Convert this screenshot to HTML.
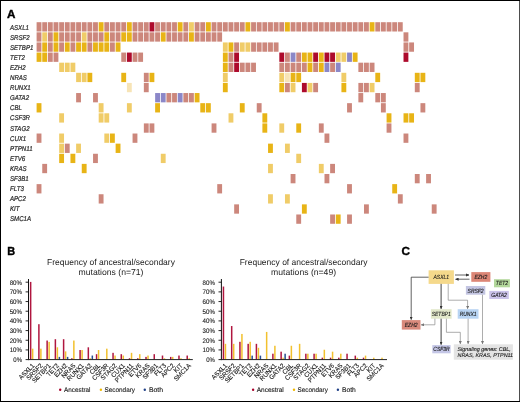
<!DOCTYPE html><html><head><meta charset="utf-8"><style>html,body{margin:0;padding:0;background:#fff;}svg{display:block;will-change:transform;}text{font-family:"Liberation Sans",sans-serif;text-rendering:geometricPrecision;} .s{stroke:#2a2a2a;stroke-width:0.22px;} .b{stroke:#000;stroke-width:0.4px;} .t{stroke:#1a1a1a;stroke-width:0.12px;} .c{stroke:#1a1a1a;stroke-width:0.12px;}</style></head><body>
<svg width="520" height="402" viewBox="0 0 520 402">
<rect x="0" y="0" width="520" height="402" fill="#000"/>
<rect x="1" y="1" width="518.3" height="400" fill="#fff"/>
<text x="7.0" y="17.8" font-size="11.7" font-weight="bold" fill="#000" class="b">A</text>
<text x="7.2" y="254.7" font-size="11.7" font-weight="bold" fill="#000" class="b" textLength="7.9" lengthAdjust="spacingAndGlyphs">B</text>
<text x="401.6" y="254.5" font-size="11.7" font-weight="bold" fill="#000" class="b">C</text>
<text x="10" y="29.75" font-size="7" font-style="italic" fill="#2a2a2a" class="s" transform="matrix(0.87 0 0 1 1.30 0)" >ASXL1</text>
<rect x="36.60" y="22.20" width="4.85" height="9.3" fill="#cc877c"/>
<rect x="42.25" y="22.20" width="4.85" height="9.3" fill="#cc877c"/>
<rect x="47.89" y="22.20" width="4.85" height="9.3" fill="#cc877c"/>
<rect x="53.53" y="22.20" width="4.85" height="9.3" fill="#cc877c"/>
<rect x="59.18" y="22.20" width="4.85" height="9.3" fill="#cc877c"/>
<rect x="64.83" y="22.20" width="4.85" height="9.3" fill="#cc877c"/>
<rect x="70.47" y="22.20" width="4.85" height="9.3" fill="#cc877c"/>
<rect x="76.12" y="22.20" width="4.85" height="9.3" fill="#cc877c"/>
<rect x="81.76" y="22.20" width="4.85" height="9.3" fill="#cc877c"/>
<rect x="87.41" y="22.20" width="4.85" height="9.3" fill="#cc877c"/>
<rect x="93.05" y="22.20" width="4.85" height="9.3" fill="#cc877c"/>
<rect x="98.69" y="22.20" width="4.85" height="9.3" fill="#e8b416"/>
<rect x="104.34" y="22.20" width="4.85" height="9.3" fill="#cc877c"/>
<rect x="109.98" y="22.20" width="4.85" height="9.3" fill="#cc877c"/>
<rect x="115.63" y="22.20" width="4.85" height="9.3" fill="#cc877c"/>
<rect x="121.28" y="22.20" width="4.85" height="9.3" fill="#cc877c"/>
<rect x="126.92" y="22.20" width="4.85" height="9.3" fill="#e8b416"/>
<rect x="132.56" y="22.20" width="4.85" height="9.3" fill="#cc877c"/>
<rect x="138.21" y="22.20" width="4.85" height="9.3" fill="#cc877c"/>
<rect x="143.85" y="22.20" width="4.85" height="9.3" fill="#cc877c"/>
<rect x="149.50" y="22.20" width="4.85" height="9.3" fill="#ad0a2c"/>
<rect x="155.14" y="22.20" width="4.85" height="9.3" fill="#cc877c"/>
<rect x="160.79" y="22.20" width="4.85" height="9.3" fill="#cc877c"/>
<rect x="166.43" y="22.20" width="4.85" height="9.3" fill="#cc877c"/>
<rect x="172.08" y="22.20" width="4.85" height="9.3" fill="#cc877c"/>
<rect x="177.72" y="22.20" width="4.85" height="9.3" fill="#e8b416"/>
<rect x="183.37" y="22.20" width="4.85" height="9.3" fill="#cc877c"/>
<rect x="189.01" y="22.20" width="4.85" height="9.3" fill="#f0cc68"/>
<rect x="194.66" y="22.20" width="4.85" height="9.3" fill="#cc877c"/>
<rect x="200.30" y="22.20" width="4.85" height="9.3" fill="#cc877c"/>
<rect x="205.95" y="22.20" width="4.85" height="9.3" fill="#e8b416"/>
<rect x="211.59" y="22.20" width="4.85" height="9.3" fill="#cc877c"/>
<rect x="217.24" y="22.20" width="4.85" height="9.3" fill="#cc877c"/>
<rect x="222.88" y="22.20" width="4.85" height="9.3" fill="#cc877c"/>
<rect x="228.53" y="22.20" width="4.85" height="9.3" fill="#cc877c"/>
<rect x="234.17" y="22.20" width="4.85" height="9.3" fill="#cc877c"/>
<rect x="239.82" y="22.20" width="4.85" height="9.3" fill="#cc877c"/>
<rect x="245.46" y="22.20" width="4.85" height="9.3" fill="#e8b416"/>
<rect x="251.11" y="22.20" width="4.85" height="9.3" fill="#cc877c"/>
<rect x="256.75" y="22.20" width="4.85" height="9.3" fill="#cc877c"/>
<rect x="262.40" y="22.20" width="4.85" height="9.3" fill="#cc877c"/>
<rect x="268.05" y="22.20" width="4.85" height="9.3" fill="#cc877c"/>
<rect x="273.69" y="22.20" width="4.85" height="9.3" fill="#cc877c"/>
<rect x="279.33" y="22.20" width="4.85" height="9.3" fill="#cc877c"/>
<rect x="284.98" y="22.20" width="4.85" height="9.3" fill="#e8b416"/>
<rect x="290.62" y="22.20" width="4.85" height="9.3" fill="#cc877c"/>
<rect x="296.27" y="22.20" width="4.85" height="9.3" fill="#cc877c"/>
<rect x="301.92" y="22.20" width="4.85" height="9.3" fill="#cc877c"/>
<rect x="307.56" y="22.20" width="4.85" height="9.3" fill="#cc877c"/>
<rect x="313.20" y="22.20" width="4.85" height="9.3" fill="#cc877c"/>
<rect x="318.85" y="22.20" width="4.85" height="9.3" fill="#cc877c"/>
<rect x="324.50" y="22.20" width="4.85" height="9.3" fill="#cc877c"/>
<rect x="330.14" y="22.20" width="4.85" height="9.3" fill="#cc877c"/>
<rect x="335.79" y="22.20" width="4.85" height="9.3" fill="#cc877c"/>
<rect x="341.43" y="22.20" width="4.85" height="9.3" fill="#cc877c"/>
<rect x="347.07" y="22.20" width="4.85" height="9.3" fill="#cc877c"/>
<rect x="352.72" y="22.20" width="4.85" height="9.3" fill="#cc877c"/>
<rect x="358.37" y="22.20" width="4.85" height="9.3" fill="#cc877c"/>
<rect x="364.01" y="22.20" width="4.85" height="9.3" fill="#cc877c"/>
<rect x="369.65" y="22.20" width="4.85" height="9.3" fill="#e8b416"/>
<rect x="375.30" y="22.20" width="4.85" height="9.3" fill="#cc877c"/>
<rect x="380.94" y="22.20" width="4.85" height="9.3" fill="#cc877c"/>
<rect x="386.59" y="22.20" width="4.85" height="9.3" fill="#cc877c"/>
<rect x="392.24" y="22.20" width="4.85" height="9.3" fill="#cc877c"/>
<rect x="397.88" y="22.20" width="4.85" height="9.3" fill="#cc877c"/>
<text x="10" y="39.83" font-size="7" font-style="italic" fill="#2a2a2a" class="s" transform="matrix(0.87 0 0 1 1.30 0)" >SRSF2</text>
<rect x="36.60" y="32.32" width="4.85" height="9.3" fill="#cc877c"/>
<rect x="42.25" y="32.32" width="4.85" height="9.3" fill="#f0cc68"/>
<rect x="47.89" y="32.32" width="4.85" height="9.3" fill="#cc877c"/>
<rect x="53.53" y="32.32" width="4.85" height="9.3" fill="#e8b416"/>
<rect x="59.18" y="32.32" width="4.85" height="9.3" fill="#cc877c"/>
<rect x="64.83" y="32.32" width="4.85" height="9.3" fill="#cc877c"/>
<rect x="70.47" y="32.32" width="4.85" height="9.3" fill="#cc877c"/>
<rect x="76.12" y="32.32" width="4.85" height="9.3" fill="#cc877c"/>
<rect x="81.76" y="32.32" width="4.85" height="9.3" fill="#f0cc68"/>
<rect x="87.41" y="32.32" width="4.85" height="9.3" fill="#cc877c"/>
<rect x="93.05" y="32.32" width="4.85" height="9.3" fill="#cc877c"/>
<rect x="98.69" y="32.32" width="4.85" height="9.3" fill="#cc877c"/>
<rect x="104.34" y="32.32" width="4.85" height="9.3" fill="#e8b416"/>
<rect x="109.98" y="32.32" width="4.85" height="9.3" fill="#cc877c"/>
<rect x="115.63" y="32.32" width="4.85" height="9.3" fill="#cc877c"/>
<rect x="121.28" y="32.32" width="4.85" height="9.3" fill="#e8b416"/>
<rect x="126.92" y="32.32" width="4.85" height="9.3" fill="#e8b416"/>
<rect x="132.56" y="32.32" width="4.85" height="9.3" fill="#cc877c"/>
<rect x="138.21" y="32.32" width="4.85" height="9.3" fill="#cc877c"/>
<rect x="143.85" y="32.32" width="4.85" height="9.3" fill="#cc877c"/>
<rect x="149.50" y="32.32" width="4.85" height="9.3" fill="#cc877c"/>
<rect x="155.14" y="32.32" width="4.85" height="9.3" fill="#cc877c"/>
<rect x="160.79" y="32.32" width="4.85" height="9.3" fill="#e8b416"/>
<rect x="166.43" y="32.32" width="4.85" height="9.3" fill="#cc877c"/>
<rect x="172.08" y="32.32" width="4.85" height="9.3" fill="#cc877c"/>
<rect x="177.72" y="32.32" width="4.85" height="9.3" fill="#cc877c"/>
<rect x="183.37" y="32.32" width="4.85" height="9.3" fill="#cc877c"/>
<rect x="189.01" y="32.32" width="4.85" height="9.3" fill="#e8b416"/>
<rect x="194.66" y="32.32" width="4.85" height="9.3" fill="#cc877c"/>
<rect x="200.30" y="32.32" width="4.85" height="9.3" fill="#cc877c"/>
<rect x="205.95" y="32.32" width="4.85" height="9.3" fill="#cc877c"/>
<rect x="211.59" y="32.32" width="4.85" height="9.3" fill="#cc877c"/>
<rect x="217.24" y="32.32" width="4.85" height="9.3" fill="#cc877c"/>
<rect x="403.52" y="32.32" width="4.85" height="9.3" fill="#cc877c"/>
<text x="10" y="49.91" font-size="7" font-style="italic" fill="#2a2a2a" class="s" transform="matrix(0.87 0 0 1 1.30 0)" >SETBP1</text>
<rect x="36.60" y="42.44" width="4.85" height="9.3" fill="#cc877c"/>
<rect x="42.25" y="42.44" width="4.85" height="9.3" fill="#e8b416"/>
<rect x="47.89" y="42.44" width="4.85" height="9.3" fill="#cc877c"/>
<rect x="53.53" y="42.44" width="4.85" height="9.3" fill="#e8b416"/>
<rect x="59.18" y="42.44" width="4.85" height="9.3" fill="#cc877c"/>
<rect x="64.83" y="42.44" width="4.85" height="9.3" fill="#e8b416"/>
<rect x="70.47" y="42.44" width="4.85" height="9.3" fill="#cc877c"/>
<rect x="76.12" y="42.44" width="4.85" height="9.3" fill="#e8b416"/>
<rect x="81.76" y="42.44" width="4.85" height="9.3" fill="#e8b416"/>
<rect x="87.41" y="42.44" width="4.85" height="9.3" fill="#cc877c"/>
<rect x="93.05" y="42.44" width="4.85" height="9.3" fill="#e8b416"/>
<rect x="98.69" y="42.44" width="4.85" height="9.3" fill="#e8b416"/>
<rect x="104.34" y="42.44" width="4.85" height="9.3" fill="#e8b416"/>
<rect x="109.98" y="42.44" width="4.85" height="9.3" fill="#cc877c"/>
<rect x="115.63" y="42.44" width="4.85" height="9.3" fill="#e8b416"/>
<rect x="222.88" y="42.44" width="4.85" height="9.3" fill="#f0cc68"/>
<rect x="228.53" y="42.44" width="4.85" height="9.3" fill="#e8b416"/>
<rect x="234.17" y="42.44" width="4.85" height="9.3" fill="#cc877c"/>
<rect x="239.82" y="42.44" width="4.85" height="9.3" fill="#f0cc68"/>
<rect x="245.46" y="42.44" width="4.85" height="9.3" fill="#f0cc68"/>
<rect x="251.11" y="42.44" width="4.85" height="9.3" fill="#cc877c"/>
<rect x="256.75" y="42.44" width="4.85" height="9.3" fill="#cc877c"/>
<rect x="262.40" y="42.44" width="4.85" height="9.3" fill="#cc877c"/>
<rect x="268.05" y="42.44" width="4.85" height="9.3" fill="#cc877c"/>
<rect x="273.69" y="42.44" width="4.85" height="9.3" fill="#cc877c"/>
<rect x="403.52" y="42.44" width="4.85" height="9.3" fill="#cc877c"/>
<rect x="409.17" y="42.44" width="4.85" height="9.3" fill="#cc877c"/>
<text x="10" y="59.99" font-size="7" font-style="italic" fill="#2a2a2a" class="s" transform="matrix(0.87 0 0 1 1.30 0)" >TET2</text>
<rect x="36.60" y="52.56" width="4.85" height="9.3" fill="#e8b416"/>
<rect x="42.25" y="52.56" width="4.85" height="9.3" fill="#e8b416"/>
<rect x="47.89" y="52.56" width="4.85" height="9.3" fill="#cc877c"/>
<rect x="53.53" y="52.56" width="4.85" height="9.3" fill="#cc877c"/>
<rect x="121.28" y="52.56" width="4.85" height="9.3" fill="#cc877c"/>
<rect x="126.92" y="52.56" width="4.85" height="9.3" fill="#ad0a2c"/>
<rect x="132.56" y="52.56" width="4.85" height="9.3" fill="#cc877c"/>
<rect x="138.21" y="52.56" width="4.85" height="9.3" fill="#cc877c"/>
<rect x="222.88" y="52.56" width="4.85" height="9.3" fill="#e8b416"/>
<rect x="228.53" y="52.56" width="4.85" height="9.3" fill="#cc877c"/>
<rect x="234.17" y="52.56" width="4.85" height="9.3" fill="#ad0a2c"/>
<rect x="279.33" y="52.56" width="4.85" height="9.3" fill="#ad0a2c"/>
<rect x="284.98" y="52.56" width="4.85" height="9.3" fill="#cc877c"/>
<rect x="290.62" y="52.56" width="4.85" height="9.3" fill="#8b87c8"/>
<rect x="296.27" y="52.56" width="4.85" height="9.3" fill="#cc877c"/>
<rect x="301.92" y="52.56" width="4.85" height="9.3" fill="#e8b416"/>
<rect x="307.56" y="52.56" width="4.85" height="9.3" fill="#e8b416"/>
<rect x="313.20" y="52.56" width="4.85" height="9.3" fill="#ad0a2c"/>
<rect x="318.85" y="52.56" width="4.85" height="9.3" fill="#e8b416"/>
<rect x="324.50" y="52.56" width="4.85" height="9.3" fill="#ad0a2c"/>
<rect x="330.14" y="52.56" width="4.85" height="9.3" fill="#ad0a2c"/>
<rect x="335.79" y="52.56" width="4.85" height="9.3" fill="#f0cc68"/>
<rect x="341.43" y="52.56" width="4.85" height="9.3" fill="#f0cc68"/>
<rect x="347.07" y="52.56" width="4.85" height="9.3" fill="#8b87c8"/>
<rect x="352.72" y="52.56" width="4.85" height="9.3" fill="#e8b416"/>
<rect x="403.52" y="52.56" width="4.85" height="9.3" fill="#ad0a2c"/>
<text x="10" y="70.07" font-size="7" font-style="italic" fill="#2a2a2a" class="s" transform="matrix(0.87 0 0 1 1.30 0)" >EZH2</text>
<rect x="59.18" y="62.68" width="4.85" height="9.3" fill="#f0cc68"/>
<rect x="64.83" y="62.68" width="4.85" height="9.3" fill="#f0cc68"/>
<rect x="70.47" y="62.68" width="4.85" height="9.3" fill="#f0cc68"/>
<rect x="222.88" y="62.68" width="4.85" height="9.3" fill="#e8b416"/>
<rect x="228.53" y="62.68" width="4.85" height="9.3" fill="#cc877c"/>
<rect x="234.17" y="62.68" width="4.85" height="9.3" fill="#ad0a2c"/>
<rect x="239.82" y="62.68" width="4.85" height="9.3" fill="#cc877c"/>
<rect x="245.46" y="62.68" width="4.85" height="9.3" fill="#cc877c"/>
<rect x="251.11" y="62.68" width="4.85" height="9.3" fill="#cc877c"/>
<rect x="279.33" y="62.68" width="4.85" height="9.3" fill="#cc877c"/>
<rect x="284.98" y="62.68" width="4.85" height="9.3" fill="#cc877c"/>
<rect x="290.62" y="62.68" width="4.85" height="9.3" fill="#cc877c"/>
<rect x="296.27" y="62.68" width="4.85" height="9.3" fill="#cc877c"/>
<rect x="301.92" y="62.68" width="4.85" height="9.3" fill="#cc877c"/>
<rect x="307.56" y="62.68" width="4.85" height="9.3" fill="#e8b416"/>
<rect x="313.20" y="62.68" width="4.85" height="9.3" fill="#cc877c"/>
<rect x="318.85" y="62.68" width="4.85" height="9.3" fill="#e8b416"/>
<rect x="324.50" y="62.68" width="4.85" height="9.3" fill="#8b87c8"/>
<rect x="330.14" y="62.68" width="4.85" height="9.3" fill="#cc877c"/>
<rect x="335.79" y="62.68" width="4.85" height="9.3" fill="#8b87c8"/>
<rect x="358.37" y="62.68" width="4.85" height="9.3" fill="#cc877c"/>
<rect x="364.01" y="62.68" width="4.85" height="9.3" fill="#cc877c"/>
<rect x="369.65" y="62.68" width="4.85" height="9.3" fill="#cc877c"/>
<text x="10" y="80.15" font-size="7" font-style="italic" fill="#2a2a2a" class="s" transform="matrix(0.87 0 0 1 1.30 0)" >NRAS</text>
<rect x="76.12" y="72.80" width="4.85" height="9.3" fill="#f0cc68"/>
<rect x="81.76" y="72.80" width="4.85" height="9.3" fill="#f0cc68"/>
<rect x="87.41" y="72.80" width="4.85" height="9.3" fill="#e8b416"/>
<rect x="121.28" y="72.80" width="4.85" height="9.3" fill="#e8b416"/>
<rect x="143.85" y="72.80" width="4.85" height="9.3" fill="#cc877c"/>
<rect x="149.50" y="72.80" width="4.85" height="9.3" fill="#e8b416"/>
<rect x="222.88" y="72.80" width="4.85" height="9.3" fill="#f0cc68"/>
<rect x="279.33" y="72.80" width="4.85" height="9.3" fill="#f0cc68"/>
<rect x="284.98" y="72.80" width="4.85" height="9.3" fill="#f7e4b6"/>
<rect x="290.62" y="72.80" width="4.85" height="9.3" fill="#e8b416"/>
<rect x="296.27" y="72.80" width="4.85" height="9.3" fill="#e8b416"/>
<rect x="341.43" y="72.80" width="4.85" height="9.3" fill="#f0cc68"/>
<rect x="375.30" y="72.80" width="4.85" height="9.3" fill="#e8b416"/>
<rect x="414.81" y="72.80" width="4.85" height="9.3" fill="#e8b416"/>
<rect x="420.46" y="72.80" width="4.85" height="9.3" fill="#e8b416"/>
<text x="10" y="90.23" font-size="7" font-style="italic" fill="#2a2a2a" class="s" transform="matrix(0.87 0 0 1 1.30 0)" >RUNX1</text>
<rect x="126.92" y="82.92" width="4.85" height="9.3" fill="#f7e4b6"/>
<rect x="143.85" y="82.92" width="4.85" height="9.3" fill="#cc877c"/>
<rect x="222.88" y="82.92" width="4.85" height="9.3" fill="#e8b416"/>
<rect x="279.33" y="82.92" width="4.85" height="9.3" fill="#e8b416"/>
<rect x="284.98" y="82.92" width="4.85" height="9.3" fill="#cc877c"/>
<rect x="290.62" y="82.92" width="4.85" height="9.3" fill="#f0cc68"/>
<rect x="301.92" y="82.92" width="4.85" height="9.3" fill="#ad0a2c"/>
<rect x="307.56" y="82.92" width="4.85" height="9.3" fill="#f0cc68"/>
<rect x="313.20" y="82.92" width="4.85" height="9.3" fill="#cc877c"/>
<rect x="341.43" y="82.92" width="4.85" height="9.3" fill="#e8b416"/>
<rect x="358.37" y="82.92" width="4.85" height="9.3" fill="#cc877c"/>
<rect x="364.01" y="82.92" width="4.85" height="9.3" fill="#cc877c"/>
<rect x="369.65" y="82.92" width="4.85" height="9.3" fill="#f0cc68"/>
<rect x="414.81" y="82.92" width="4.85" height="9.3" fill="#cc877c"/>
<text x="10" y="100.31" font-size="7" font-style="italic" fill="#2a2a2a" class="s" transform="matrix(0.87 0 0 1 1.30 0)" >GATA2</text>
<rect x="76.12" y="93.04" width="4.85" height="9.3" fill="#cc877c"/>
<rect x="93.05" y="93.04" width="4.85" height="9.3" fill="#cc877c"/>
<rect x="155.14" y="93.04" width="4.85" height="9.3" fill="#8b87c8"/>
<rect x="160.79" y="93.04" width="4.85" height="9.3" fill="#8b87c8"/>
<rect x="166.43" y="93.04" width="4.85" height="9.3" fill="#cc877c"/>
<rect x="172.08" y="93.04" width="4.85" height="9.3" fill="#cc877c"/>
<rect x="177.72" y="93.04" width="4.85" height="9.3" fill="#8b87c8"/>
<rect x="183.37" y="93.04" width="4.85" height="9.3" fill="#cc877c"/>
<rect x="189.01" y="93.04" width="4.85" height="9.3" fill="#cc877c"/>
<rect x="194.66" y="93.04" width="4.85" height="9.3" fill="#e8b416"/>
<rect x="358.37" y="93.04" width="4.85" height="9.3" fill="#cc877c"/>
<rect x="375.30" y="93.04" width="4.85" height="9.3" fill="#cc877c"/>
<rect x="380.94" y="93.04" width="4.85" height="9.3" fill="#cc877c"/>
<text x="10" y="110.39" font-size="7" font-style="italic" fill="#2a2a2a" class="s" transform="matrix(0.87 0 0 1 1.30 0)" >CBL</text>
<rect x="36.60" y="103.16" width="4.85" height="9.3" fill="#e8b416"/>
<rect x="98.69" y="103.16" width="4.85" height="9.3" fill="#f0cc68"/>
<rect x="126.92" y="103.16" width="4.85" height="9.3" fill="#f0cc68"/>
<rect x="155.14" y="103.16" width="4.85" height="9.3" fill="#e8b416"/>
<rect x="200.30" y="103.16" width="4.85" height="9.3" fill="#e8b416"/>
<rect x="205.95" y="103.16" width="4.85" height="9.3" fill="#e8b416"/>
<rect x="239.82" y="103.16" width="4.85" height="9.3" fill="#e8b416"/>
<rect x="256.75" y="103.16" width="4.85" height="9.3" fill="#cc877c"/>
<rect x="347.07" y="103.16" width="4.85" height="9.3" fill="#cc877c"/>
<rect x="380.94" y="103.16" width="4.85" height="9.3" fill="#cc877c"/>
<rect x="420.46" y="103.16" width="4.85" height="9.3" fill="#cc877c"/>
<text x="10" y="120.47" font-size="7" font-style="italic" fill="#2a2a2a" class="s" transform="matrix(0.87 0 0 1 1.30 0)" >CSF3R</text>
<rect x="59.18" y="113.28" width="4.85" height="9.3" fill="#f0cc68"/>
<rect x="98.69" y="113.28" width="4.85" height="9.3" fill="#f0cc68"/>
<rect x="104.34" y="113.28" width="4.85" height="9.3" fill="#f0cc68"/>
<rect x="228.53" y="113.28" width="4.85" height="9.3" fill="#f0cc68"/>
<rect x="262.40" y="113.28" width="4.85" height="9.3" fill="#e8b416"/>
<rect x="386.59" y="113.28" width="4.85" height="9.3" fill="#e8b416"/>
<rect x="403.52" y="113.28" width="4.85" height="9.3" fill="#e8b416"/>
<rect x="409.17" y="113.28" width="4.85" height="9.3" fill="#e8b416"/>
<text x="10" y="130.55" font-size="7" font-style="italic" fill="#2a2a2a" class="s" transform="matrix(0.87 0 0 1 1.30 0)" >STAG2</text>
<rect x="143.85" y="123.40" width="4.85" height="9.3" fill="#cc877c"/>
<rect x="149.50" y="123.40" width="4.85" height="9.3" fill="#cc877c"/>
<rect x="211.59" y="123.40" width="4.85" height="9.3" fill="#cc877c"/>
<rect x="262.40" y="123.40" width="4.85" height="9.3" fill="#e8b416"/>
<rect x="279.33" y="123.40" width="4.85" height="9.3" fill="#f0cc68"/>
<rect x="296.27" y="123.40" width="4.85" height="9.3" fill="#e8b416"/>
<rect x="318.85" y="123.40" width="4.85" height="9.3" fill="#cc877c"/>
<rect x="386.59" y="123.40" width="4.85" height="9.3" fill="#cc877c"/>
<text x="10" y="140.63" font-size="7" font-style="italic" fill="#2a2a2a" class="s" transform="matrix(0.87 0 0 1 1.30 0)" >CUX1</text>
<rect x="36.60" y="133.52" width="4.85" height="9.3" fill="#cc877c"/>
<rect x="59.18" y="133.52" width="4.85" height="9.3" fill="#f0cc68"/>
<rect x="104.34" y="133.52" width="4.85" height="9.3" fill="#f0cc68"/>
<rect x="109.98" y="133.52" width="4.85" height="9.3" fill="#e8b416"/>
<rect x="132.56" y="133.52" width="4.85" height="9.3" fill="#cc877c"/>
<rect x="324.50" y="133.52" width="4.85" height="9.3" fill="#cc877c"/>
<rect x="403.52" y="133.52" width="4.85" height="9.3" fill="#cc877c"/>
<text x="10" y="150.71" font-size="7" font-style="italic" fill="#2a2a2a" class="s" transform="matrix(0.87 0 0 1 1.30 0)" >PTPN11</text>
<rect x="59.18" y="143.64" width="4.85" height="9.3" fill="#f0cc68"/>
<rect x="64.83" y="143.64" width="4.85" height="9.3" fill="#cc877c"/>
<rect x="76.12" y="143.64" width="4.85" height="9.3" fill="#f0cc68"/>
<rect x="115.63" y="143.64" width="4.85" height="9.3" fill="#e8b416"/>
<rect x="268.05" y="143.64" width="4.85" height="9.3" fill="#e8b416"/>
<rect x="284.98" y="143.64" width="4.85" height="9.3" fill="#f0cc68"/>
<text x="10" y="160.79" font-size="7" font-style="italic" fill="#2a2a2a" class="s" transform="matrix(0.87 0 0 1 1.30 0)" >ETV6</text>
<rect x="59.18" y="153.76" width="4.85" height="9.3" fill="#e8b416"/>
<rect x="70.47" y="153.76" width="4.85" height="9.3" fill="#e8b416"/>
<rect x="93.05" y="153.76" width="4.85" height="9.3" fill="#cc877c"/>
<rect x="160.79" y="153.76" width="4.85" height="9.3" fill="#f0cc68"/>
<rect x="296.27" y="153.76" width="4.85" height="9.3" fill="#f0cc68"/>
<text x="10" y="170.87" font-size="7" font-style="italic" fill="#2a2a2a" class="s" transform="matrix(0.87 0 0 1 1.30 0)" >KRAS</text>
<rect x="42.25" y="163.88" width="4.85" height="9.3" fill="#cc877c"/>
<rect x="81.76" y="163.88" width="4.85" height="9.3" fill="#e8b416"/>
<rect x="268.05" y="163.88" width="4.85" height="9.3" fill="#f0cc68"/>
<rect x="318.85" y="163.88" width="4.85" height="9.3" fill="#f0cc68"/>
<rect x="330.14" y="163.88" width="4.85" height="9.3" fill="#cc877c"/>
<text x="10" y="180.95" font-size="7" font-style="italic" fill="#2a2a2a" class="s" transform="matrix(0.87 0 0 1 1.30 0)" >SF3B1</text>
<rect x="290.62" y="174.00" width="4.85" height="9.3" fill="#cc877c"/>
<rect x="324.50" y="174.00" width="4.85" height="9.3" fill="#cc877c"/>
<rect x="414.81" y="174.00" width="4.85" height="9.3" fill="#cc877c"/>
<rect x="426.11" y="174.00" width="4.85" height="9.3" fill="#cc877c"/>
<text x="10" y="191.03" font-size="7" font-style="italic" fill="#2a2a2a" class="s" transform="matrix(0.87 0 0 1 1.30 0)" >FLT3</text>
<rect x="36.60" y="184.12" width="4.85" height="9.3" fill="#cc877c"/>
<rect x="217.24" y="184.12" width="4.85" height="9.3" fill="#cc877c"/>
<rect x="347.07" y="184.12" width="4.85" height="9.3" fill="#cc877c"/>
<rect x="392.24" y="184.12" width="4.85" height="9.3" fill="#e8b416"/>
<text x="10" y="201.11" font-size="7" font-style="italic" fill="#2a2a2a" class="s" transform="matrix(0.87 0 0 1 1.30 0)" >APC2</text>
<rect x="98.69" y="194.24" width="4.85" height="9.3" fill="#cc877c"/>
<rect x="268.05" y="194.24" width="4.85" height="9.3" fill="#f0cc68"/>
<rect x="284.98" y="194.24" width="4.85" height="9.3" fill="#f0cc68"/>
<rect x="397.88" y="194.24" width="4.85" height="9.3" fill="#cc877c"/>
<text x="10" y="211.19" font-size="7" font-style="italic" fill="#2a2a2a" class="s" transform="matrix(0.87 0 0 1 1.30 0)" >KIT</text>
<rect x="234.17" y="204.36" width="4.85" height="9.3" fill="#cc877c"/>
<rect x="301.92" y="204.36" width="4.85" height="9.3" fill="#e8b416"/>
<rect x="364.01" y="204.36" width="4.85" height="9.3" fill="#cc877c"/>
<rect x="431.75" y="204.36" width="4.85" height="9.3" fill="#cc877c"/>
<text x="10" y="221.27" font-size="7" font-style="italic" fill="#2a2a2a" class="s" transform="matrix(0.87 0 0 1 1.30 0)" >SMC1A</text>
<rect x="296.27" y="214.48" width="4.85" height="9.3" fill="#cc877c"/>
<rect x="330.14" y="214.48" width="4.85" height="9.3" fill="#cc877c"/>
<rect x="335.79" y="214.48" width="4.85" height="9.3" fill="#e8b416"/>
<rect x="347.07" y="214.48" width="4.85" height="9.3" fill="#cc877c"/>
<text x="111" y="264.8" font-size="8.6" text-anchor="middle" fill="#222" textLength="127.8" lengthAdjust="spacingAndGlyphs">Frequency of ancestral/secondary</text>
<text x="111" y="274.8" font-size="8.6" text-anchor="middle" fill="#222" textLength="65" lengthAdjust="spacingAndGlyphs">mutations (n=71)</text>
<text x="22.00" y="362.00" font-size="6.6" text-anchor="end" fill="#1a1a1a" class="t" textLength="8.7" lengthAdjust="spacingAndGlyphs">0%</text>
<line x1="25.60" y1="359.60" x2="28.5" y2="359.60" stroke="#111" stroke-width="0.9"/>
<text x="22.00" y="352.32" font-size="6.6" text-anchor="end" fill="#1a1a1a" class="t" textLength="12.3" lengthAdjust="spacingAndGlyphs">10%</text>
<line x1="25.60" y1="349.93" x2="28.5" y2="349.93" stroke="#111" stroke-width="0.9"/>
<text x="22.00" y="342.65" font-size="6.6" text-anchor="end" fill="#1a1a1a" class="t" textLength="12.3" lengthAdjust="spacingAndGlyphs">20%</text>
<line x1="25.60" y1="340.25" x2="28.5" y2="340.25" stroke="#111" stroke-width="0.9"/>
<text x="22.00" y="332.98" font-size="6.6" text-anchor="end" fill="#1a1a1a" class="t" textLength="12.3" lengthAdjust="spacingAndGlyphs">30%</text>
<line x1="25.60" y1="330.58" x2="28.5" y2="330.58" stroke="#111" stroke-width="0.9"/>
<text x="22.00" y="323.30" font-size="6.6" text-anchor="end" fill="#1a1a1a" class="t" textLength="12.3" lengthAdjust="spacingAndGlyphs">40%</text>
<line x1="25.60" y1="320.90" x2="28.5" y2="320.90" stroke="#111" stroke-width="0.9"/>
<text x="22.00" y="313.62" font-size="6.6" text-anchor="end" fill="#1a1a1a" class="t" textLength="12.3" lengthAdjust="spacingAndGlyphs">50%</text>
<line x1="25.60" y1="311.23" x2="28.5" y2="311.23" stroke="#111" stroke-width="0.9"/>
<text x="22.00" y="303.95" font-size="6.6" text-anchor="end" fill="#1a1a1a" class="t" textLength="12.3" lengthAdjust="spacingAndGlyphs">60%</text>
<line x1="25.60" y1="301.55" x2="28.5" y2="301.55" stroke="#111" stroke-width="0.9"/>
<text x="22.00" y="294.27" font-size="6.6" text-anchor="end" fill="#1a1a1a" class="t" textLength="12.3" lengthAdjust="spacingAndGlyphs">70%</text>
<line x1="25.60" y1="291.88" x2="28.5" y2="291.88" stroke="#111" stroke-width="0.9"/>
<text x="22.00" y="284.60" font-size="6.6" text-anchor="end" fill="#1a1a1a" class="t" textLength="12.3" lengthAdjust="spacingAndGlyphs">80%</text>
<line x1="25.60" y1="282.20" x2="28.5" y2="282.20" stroke="#111" stroke-width="0.9"/>
<rect x="29.90" y="281.91" width="1.5" height="77.69" fill="#b0163f"/>
<rect x="31.90" y="348.67" width="1.5" height="10.93" fill="#f2c12e"/>
<text x="0" y="0" font-size="6.5" text-anchor="end" fill="#1a1a1a" class="t" transform="translate(34.80 366.0) rotate(-46) scale(0.96 1)">ASXL1</text>
<rect x="38.14" y="324.19" width="1.5" height="35.41" fill="#b0163f"/>
<rect x="40.14" y="348.67" width="1.5" height="10.93" fill="#f2c12e"/>
<text x="0" y="0" font-size="6.5" text-anchor="end" fill="#1a1a1a" class="t" transform="translate(43.04 366.0) rotate(-46) scale(0.96 1)">SRSF2</text>
<rect x="46.38" y="340.54" width="1.5" height="19.06" fill="#b0163f"/>
<rect x="48.38" y="341.89" width="1.5" height="17.71" fill="#f2c12e"/>
<text x="0" y="0" font-size="6.5" text-anchor="end" fill="#1a1a1a" class="t" transform="translate(51.28 366.0) rotate(-46) scale(0.96 1)">SETBP1</text>
<rect x="54.62" y="339.19" width="1.5" height="20.41" fill="#b0163f"/>
<rect x="56.62" y="347.31" width="1.5" height="12.29" fill="#f2c12e"/>
<rect x="58.62" y="356.89" width="1.5" height="2.71" fill="#2b4e8e"/>
<text x="0" y="0" font-size="6.5" text-anchor="end" fill="#1a1a1a" class="t" transform="translate(59.52 366.0) rotate(-46) scale(0.96 1)">TET2</text>
<rect x="62.86" y="339.19" width="1.5" height="20.41" fill="#b0163f"/>
<rect x="64.86" y="351.38" width="1.5" height="8.22" fill="#f2c12e"/>
<rect x="66.86" y="356.89" width="1.5" height="2.71" fill="#2b4e8e"/>
<text x="0" y="0" font-size="6.5" text-anchor="end" fill="#1a1a1a" class="t" transform="translate(67.76 366.0) rotate(-46) scale(0.96 1)">EZH2</text>
<rect x="71.10" y="358.25" width="1.5" height="1.35" fill="#b0163f"/>
<rect x="73.10" y="340.54" width="1.5" height="19.06" fill="#f2c12e"/>
<text x="0" y="0" font-size="6.5" text-anchor="end" fill="#1a1a1a" class="t" transform="translate(76.00 366.0) rotate(-46) scale(0.96 1)">NRAS</text>
<rect x="79.34" y="350.02" width="1.5" height="9.58" fill="#b0163f"/>
<rect x="81.34" y="350.02" width="1.5" height="9.58" fill="#f2c12e"/>
<text x="0" y="0" font-size="6.5" text-anchor="end" fill="#1a1a1a" class="t" transform="translate(84.24 366.0) rotate(-46) scale(0.96 1)">RUNX1</text>
<rect x="87.58" y="347.31" width="1.5" height="12.29" fill="#b0163f"/>
<rect x="89.58" y="358.25" width="1.5" height="1.35" fill="#f2c12e"/>
<rect x="91.58" y="355.54" width="1.5" height="4.06" fill="#2b4e8e"/>
<text x="0" y="0" font-size="6.5" text-anchor="end" fill="#1a1a1a" class="t" transform="translate(92.48 366.0) rotate(-46) scale(0.96 1)">GATA2</text>
<rect x="95.82" y="354.18" width="1.5" height="5.42" fill="#b0163f"/>
<rect x="97.82" y="350.02" width="1.5" height="9.58" fill="#f2c12e"/>
<text x="0" y="0" font-size="6.5" text-anchor="end" fill="#1a1a1a" class="t" transform="translate(100.72 366.0) rotate(-46) scale(0.96 1)">CBL</text>
<rect x="106.06" y="348.67" width="1.5" height="10.93" fill="#f2c12e"/>
<text x="0" y="0" font-size="6.5" text-anchor="end" fill="#1a1a1a" class="t" transform="translate(108.96 366.0) rotate(-46) scale(0.96 1)">CSF3R</text>
<rect x="112.30" y="352.83" width="1.5" height="6.77" fill="#b0163f"/>
<rect x="114.30" y="355.54" width="1.5" height="4.06" fill="#f2c12e"/>
<text x="0" y="0" font-size="6.5" text-anchor="end" fill="#1a1a1a" class="t" transform="translate(117.20 366.0) rotate(-46) scale(0.96 1)">STAG2</text>
<rect x="120.54" y="354.18" width="1.5" height="5.42" fill="#b0163f"/>
<rect x="122.54" y="355.54" width="1.5" height="4.06" fill="#f2c12e"/>
<text x="0" y="0" font-size="6.5" text-anchor="end" fill="#1a1a1a" class="t" transform="translate(125.44 366.0) rotate(-46) scale(0.96 1)">CUX1</text>
<rect x="128.78" y="358.25" width="1.5" height="1.35" fill="#b0163f"/>
<rect x="130.78" y="352.83" width="1.5" height="6.77" fill="#f2c12e"/>
<text x="0" y="0" font-size="6.5" text-anchor="end" fill="#1a1a1a" class="t" transform="translate(133.68 366.0) rotate(-46) scale(0.96 1)">PTPN11</text>
<rect x="137.02" y="358.25" width="1.5" height="1.35" fill="#b0163f"/>
<rect x="139.02" y="354.18" width="1.5" height="5.42" fill="#f2c12e"/>
<text x="0" y="0" font-size="6.5" text-anchor="end" fill="#1a1a1a" class="t" transform="translate(141.92 366.0) rotate(-46) scale(0.96 1)">ETV6</text>
<rect x="145.26" y="356.89" width="1.5" height="2.71" fill="#b0163f"/>
<rect x="147.26" y="355.54" width="1.5" height="4.06" fill="#f2c12e"/>
<text x="0" y="0" font-size="6.5" text-anchor="end" fill="#1a1a1a" class="t" transform="translate(150.16 366.0) rotate(-46) scale(0.96 1)">KRAS</text>
<rect x="153.50" y="354.18" width="1.5" height="5.42" fill="#b0163f"/>
<text x="0" y="0" font-size="6.5" text-anchor="end" fill="#1a1a1a" class="t" transform="translate(158.40 366.0) rotate(-46) scale(0.96 1)">SF3B1</text>
<rect x="161.74" y="355.54" width="1.5" height="4.06" fill="#b0163f"/>
<rect x="163.74" y="358.25" width="1.5" height="1.35" fill="#f2c12e"/>
<text x="0" y="0" font-size="6.5" text-anchor="end" fill="#1a1a1a" class="t" transform="translate(166.64 366.0) rotate(-46) scale(0.96 1)">FLT3</text>
<rect x="169.98" y="356.89" width="1.5" height="2.71" fill="#b0163f"/>
<rect x="171.98" y="356.89" width="1.5" height="2.71" fill="#f2c12e"/>
<text x="0" y="0" font-size="6.5" text-anchor="end" fill="#1a1a1a" class="t" transform="translate(174.88 366.0) rotate(-46) scale(0.96 1)">APC2</text>
<rect x="178.22" y="355.54" width="1.5" height="4.06" fill="#b0163f"/>
<rect x="180.22" y="358.25" width="1.5" height="1.35" fill="#f2c12e"/>
<text x="0" y="0" font-size="6.5" text-anchor="end" fill="#1a1a1a" class="t" transform="translate(183.12 366.0) rotate(-46) scale(0.96 1)">KIT</text>
<rect x="186.46" y="355.54" width="1.5" height="4.06" fill="#b0163f"/>
<rect x="188.46" y="358.25" width="1.5" height="1.35" fill="#f2c12e"/>
<text x="0" y="0" font-size="6.5" text-anchor="end" fill="#1a1a1a" class="t" transform="translate(191.36 366.0) rotate(-46) scale(0.96 1)">SMC1A</text>
<line x1="28.50" y1="279" x2="28.50" y2="360.1" stroke="#111" stroke-width="1"/>
<line x1="28.00" y1="359.60" x2="192.8" y2="359.60" stroke="#222" stroke-width="1"/>
<text x="303.6" y="264.8" font-size="8.6" text-anchor="middle" fill="#222" textLength="127.8" lengthAdjust="spacingAndGlyphs">Frequency of ancestral/secondary</text>
<text x="303.6" y="274.8" font-size="8.6" text-anchor="middle" fill="#222" textLength="65" lengthAdjust="spacingAndGlyphs">mutations (n=49)</text>
<text x="214.90" y="362.00" font-size="6.6" text-anchor="end" fill="#1a1a1a" class="t" textLength="8.7" lengthAdjust="spacingAndGlyphs">0%</text>
<line x1="218.50" y1="359.60" x2="221.4" y2="359.60" stroke="#111" stroke-width="0.9"/>
<text x="214.90" y="352.32" font-size="6.6" text-anchor="end" fill="#1a1a1a" class="t" textLength="12.3" lengthAdjust="spacingAndGlyphs">10%</text>
<line x1="218.50" y1="349.93" x2="221.4" y2="349.93" stroke="#111" stroke-width="0.9"/>
<text x="214.90" y="342.65" font-size="6.6" text-anchor="end" fill="#1a1a1a" class="t" textLength="12.3" lengthAdjust="spacingAndGlyphs">20%</text>
<line x1="218.50" y1="340.25" x2="221.4" y2="340.25" stroke="#111" stroke-width="0.9"/>
<text x="214.90" y="332.98" font-size="6.6" text-anchor="end" fill="#1a1a1a" class="t" textLength="12.3" lengthAdjust="spacingAndGlyphs">30%</text>
<line x1="218.50" y1="330.58" x2="221.4" y2="330.58" stroke="#111" stroke-width="0.9"/>
<text x="214.90" y="323.30" font-size="6.6" text-anchor="end" fill="#1a1a1a" class="t" textLength="12.3" lengthAdjust="spacingAndGlyphs">40%</text>
<line x1="218.50" y1="320.90" x2="221.4" y2="320.90" stroke="#111" stroke-width="0.9"/>
<text x="214.90" y="313.62" font-size="6.6" text-anchor="end" fill="#1a1a1a" class="t" textLength="12.3" lengthAdjust="spacingAndGlyphs">50%</text>
<line x1="218.50" y1="311.23" x2="221.4" y2="311.23" stroke="#111" stroke-width="0.9"/>
<text x="214.90" y="303.95" font-size="6.6" text-anchor="end" fill="#1a1a1a" class="t" textLength="12.3" lengthAdjust="spacingAndGlyphs">60%</text>
<line x1="218.50" y1="301.55" x2="221.4" y2="301.55" stroke="#111" stroke-width="0.9"/>
<text x="214.90" y="294.27" font-size="6.6" text-anchor="end" fill="#1a1a1a" class="t" textLength="12.3" lengthAdjust="spacingAndGlyphs">70%</text>
<line x1="218.50" y1="291.88" x2="221.4" y2="291.88" stroke="#111" stroke-width="0.9"/>
<text x="214.90" y="284.60" font-size="6.6" text-anchor="end" fill="#1a1a1a" class="t" textLength="12.3" lengthAdjust="spacingAndGlyphs">80%</text>
<line x1="218.50" y1="282.20" x2="221.4" y2="282.20" stroke="#111" stroke-width="0.9"/>
<rect x="222.70" y="286.55" width="1.5" height="73.05" fill="#b0163f"/>
<rect x="224.70" y="343.83" width="1.5" height="15.77" fill="#f2c12e"/>
<text x="0" y="0" font-size="6.5" text-anchor="end" fill="#1a1a1a" class="t" transform="translate(227.60 366.0) rotate(-46) scale(0.96 1)">ASXL1</text>
<rect x="230.94" y="326.03" width="1.5" height="33.57" fill="#b0163f"/>
<rect x="232.94" y="343.83" width="1.5" height="15.77" fill="#f2c12e"/>
<text x="0" y="0" font-size="6.5" text-anchor="end" fill="#1a1a1a" class="t" transform="translate(235.84 366.0) rotate(-46) scale(0.96 1)">SRSF2</text>
<rect x="239.18" y="341.80" width="1.5" height="17.80" fill="#b0163f"/>
<rect x="241.18" y="333.96" width="1.5" height="25.64" fill="#f2c12e"/>
<text x="0" y="0" font-size="6.5" text-anchor="end" fill="#1a1a1a" class="t" transform="translate(244.08 366.0) rotate(-46) scale(0.96 1)">SETBP1</text>
<rect x="247.42" y="343.83" width="1.5" height="15.77" fill="#b0163f"/>
<rect x="249.42" y="341.80" width="1.5" height="17.80" fill="#f2c12e"/>
<rect x="251.42" y="355.63" width="1.5" height="3.97" fill="#2b4e8e"/>
<text x="0" y="0" font-size="6.5" text-anchor="end" fill="#1a1a1a" class="t" transform="translate(252.32 366.0) rotate(-46) scale(0.96 1)">TET2</text>
<rect x="255.66" y="343.83" width="1.5" height="15.77" fill="#b0163f"/>
<rect x="257.66" y="347.80" width="1.5" height="11.80" fill="#f2c12e"/>
<rect x="259.66" y="355.63" width="1.5" height="3.97" fill="#2b4e8e"/>
<text x="0" y="0" font-size="6.5" text-anchor="end" fill="#1a1a1a" class="t" transform="translate(260.56 366.0) rotate(-46) scale(0.96 1)">EZH2</text>
<rect x="265.90" y="331.93" width="1.5" height="27.67" fill="#f2c12e"/>
<text x="0" y="0" font-size="6.5" text-anchor="end" fill="#1a1a1a" class="t" transform="translate(268.80 366.0) rotate(-46) scale(0.96 1)">NRAS</text>
<rect x="272.14" y="353.70" width="1.5" height="5.90" fill="#b0163f"/>
<rect x="274.14" y="345.76" width="1.5" height="13.84" fill="#f2c12e"/>
<text x="0" y="0" font-size="6.5" text-anchor="end" fill="#1a1a1a" class="t" transform="translate(277.04 366.0) rotate(-46) scale(0.96 1)">RUNX1</text>
<rect x="280.38" y="351.67" width="1.5" height="7.93" fill="#b0163f"/>
<rect x="282.38" y="357.67" width="1.5" height="1.94" fill="#f2c12e"/>
<rect x="284.38" y="353.70" width="1.5" height="5.90" fill="#2b4e8e"/>
<text x="0" y="0" font-size="6.5" text-anchor="end" fill="#1a1a1a" class="t" transform="translate(285.28 366.0) rotate(-46) scale(0.96 1)">GATA2</text>
<rect x="288.62" y="355.63" width="1.5" height="3.97" fill="#b0163f"/>
<rect x="290.62" y="345.76" width="1.5" height="13.84" fill="#f2c12e"/>
<text x="0" y="0" font-size="6.5" text-anchor="end" fill="#1a1a1a" class="t" transform="translate(293.52 366.0) rotate(-46) scale(0.96 1)">CBL</text>
<rect x="298.86" y="343.83" width="1.5" height="15.77" fill="#f2c12e"/>
<text x="0" y="0" font-size="6.5" text-anchor="end" fill="#1a1a1a" class="t" transform="translate(301.76 366.0) rotate(-46) scale(0.96 1)">CSF3R</text>
<rect x="305.10" y="353.70" width="1.5" height="5.90" fill="#b0163f"/>
<rect x="307.10" y="353.70" width="1.5" height="5.90" fill="#f2c12e"/>
<text x="0" y="0" font-size="6.5" text-anchor="end" fill="#1a1a1a" class="t" transform="translate(310.00 366.0) rotate(-46) scale(0.96 1)">STAG2</text>
<rect x="313.34" y="353.70" width="1.5" height="5.90" fill="#b0163f"/>
<rect x="315.34" y="353.70" width="1.5" height="5.90" fill="#f2c12e"/>
<text x="0" y="0" font-size="6.5" text-anchor="end" fill="#1a1a1a" class="t" transform="translate(318.24 366.0) rotate(-46) scale(0.96 1)">CUX1</text>
<rect x="321.58" y="357.67" width="1.5" height="1.94" fill="#b0163f"/>
<rect x="323.58" y="349.73" width="1.5" height="9.87" fill="#f2c12e"/>
<text x="0" y="0" font-size="6.5" text-anchor="end" fill="#1a1a1a" class="t" transform="translate(326.48 366.0) rotate(-46) scale(0.96 1)">PTPN11</text>
<rect x="329.82" y="357.67" width="1.5" height="1.94" fill="#b0163f"/>
<rect x="331.82" y="351.67" width="1.5" height="7.93" fill="#f2c12e"/>
<text x="0" y="0" font-size="6.5" text-anchor="end" fill="#1a1a1a" class="t" transform="translate(334.72 366.0) rotate(-46) scale(0.96 1)">ETV6</text>
<rect x="338.06" y="357.67" width="1.5" height="1.94" fill="#b0163f"/>
<rect x="340.06" y="353.70" width="1.5" height="5.90" fill="#f2c12e"/>
<text x="0" y="0" font-size="6.5" text-anchor="end" fill="#1a1a1a" class="t" transform="translate(342.96 366.0) rotate(-46) scale(0.96 1)">KRAS</text>
<rect x="346.30" y="353.70" width="1.5" height="5.90" fill="#b0163f"/>
<text x="0" y="0" font-size="6.5" text-anchor="end" fill="#1a1a1a" class="t" transform="translate(351.20 366.0) rotate(-46) scale(0.96 1)">SF3B1</text>
<rect x="354.54" y="355.63" width="1.5" height="3.97" fill="#b0163f"/>
<rect x="356.54" y="357.67" width="1.5" height="1.94" fill="#f2c12e"/>
<text x="0" y="0" font-size="6.5" text-anchor="end" fill="#1a1a1a" class="t" transform="translate(359.44 366.0) rotate(-46) scale(0.96 1)">FLT3</text>
<rect x="362.78" y="357.67" width="1.5" height="1.94" fill="#b0163f"/>
<rect x="364.78" y="355.63" width="1.5" height="3.97" fill="#f2c12e"/>
<text x="0" y="0" font-size="6.5" text-anchor="end" fill="#1a1a1a" class="t" transform="translate(367.68 366.0) rotate(-46) scale(0.96 1)">APC2</text>
<rect x="373.02" y="357.67" width="1.5" height="1.94" fill="#f2c12e"/>
<text x="0" y="0" font-size="6.5" text-anchor="end" fill="#1a1a1a" class="t" transform="translate(375.92 366.0) rotate(-46) scale(0.96 1)">KIT</text>
<rect x="381.26" y="357.67" width="1.5" height="1.94" fill="#f2c12e"/>
<text x="0" y="0" font-size="6.5" text-anchor="end" fill="#1a1a1a" class="t" transform="translate(384.16 366.0) rotate(-46) scale(0.96 1)">SMC1A</text>
<line x1="221.40" y1="279" x2="221.40" y2="360.1" stroke="#111" stroke-width="1"/>
<line x1="220.90" y1="359.60" x2="387" y2="359.60" stroke="#222" stroke-width="1"/>
<circle cx="60.2" cy="389.7" r="1.2" fill="#a8002a"/>
<circle cx="100.9" cy="389.7" r="1.2" fill="#f0b800"/>
<circle cx="144.8" cy="389.7" r="1.2" fill="#1f3f86"/>
<text x="64.1" y="391.9" font-size="6.7" fill="#1a1a1a" class="t" textLength="26.4" lengthAdjust="spacingAndGlyphs">Ancestral</text>
<text x="104.6" y="391.9" font-size="6.7" fill="#1a1a1a" class="t" textLength="30.4" lengthAdjust="spacingAndGlyphs">Secondary</text>
<text x="148.9" y="391.9" font-size="6.7" fill="#1a1a1a" class="t" textLength="14.2" lengthAdjust="spacingAndGlyphs">Both</text>
<circle cx="253.1" cy="389.7" r="1.2" fill="#a8002a"/>
<circle cx="294" cy="389.7" r="1.2" fill="#f0b800"/>
<circle cx="337.9" cy="389.7" r="1.2" fill="#1f3f86"/>
<text x="256.7" y="391.9" font-size="6.7" fill="#1a1a1a" class="t" textLength="27.1" lengthAdjust="spacingAndGlyphs">Ancestral</text>
<text x="297.6" y="391.9" font-size="6.7" fill="#1a1a1a" class="t" textLength="30.3" lengthAdjust="spacingAndGlyphs">Secondary</text>
<text x="342.0" y="391.9" font-size="6.7" fill="#1a1a1a" class="t" textLength="13.8" lengthAdjust="spacingAndGlyphs">Both</text>
<rect x="428.6" y="270.3" width="25.30" height="13.60" fill="#f5d98b"/>
<text x="0" y="0" font-size="6.0" font-style="italic" text-anchor="middle" fill="#1a1a1a" class="c" transform="translate(441.25 279.30) scale(0.83 1)">ASXL1</text>
<rect x="471.3" y="272.1" width="19.10" height="9.70" fill="#dc8676"/>
<text x="0" y="0" font-size="6.0" font-style="italic" text-anchor="middle" fill="#1a1a1a" class="c" transform="translate(480.85 279.15) scale(0.83 1)">EZH2</text>
<rect x="494" y="279.2" width="15.90" height="8.10" fill="#b3d89c"/>
<text x="0" y="0" font-size="6.0" font-style="italic" text-anchor="middle" fill="#1a1a1a" class="c" transform="translate(501.95 285.45) scale(0.83 1)">TET2</text>
<rect x="465.9" y="286" width="19.40" height="8.70" fill="#c3c5e2"/>
<text x="0" y="0" font-size="6.0" font-style="italic" text-anchor="middle" fill="#1a1a1a" class="c" transform="translate(475.60 292.55) scale(0.83 1)">SRSF2</text>
<rect x="489.3" y="290.9" width="19.50" height="8.10" fill="#cbc3ea"/>
<text x="0" y="0" font-size="6.0" font-style="italic" text-anchor="middle" fill="#1a1a1a" class="c" transform="translate(499.05 297.15) scale(0.83 1)">GATA2</text>
<rect x="430.9" y="309.2" width="20.70" height="9.50" fill="#e2e8ca"/>
<text x="0" y="0" font-size="6.0" font-style="italic" text-anchor="middle" fill="#1a1a1a" class="c" transform="translate(441.25 316.15) scale(0.83 1)">SETBP1</text>
<rect x="457.7" y="309.2" width="20.80" height="9.50" fill="#b8d4f3"/>
<text x="0" y="0" font-size="6.0" font-style="italic" text-anchor="middle" fill="#1a1a1a" class="c" transform="translate(468.10 316.15) scale(0.83 1)">RUNX1</text>
<rect x="401.8" y="320.1" width="18.70" height="9.50" fill="#d98a7c"/>
<text x="0" y="0" font-size="6.0" font-style="italic" text-anchor="middle" fill="#1a1a1a" class="c" transform="translate(411.15 327.05) scale(0.83 1)">EZH2</text>
<rect x="432.3" y="345.1" width="18.30" height="8.20" fill="#c4c6e6"/>
<text x="0" y="0" font-size="6.0" font-style="italic" text-anchor="middle" fill="#1a1a1a" class="c" transform="translate(441.45 351.40) scale(0.83 1)">CSF3R</text>
<rect x="453.8" y="344.3" width="59.1" height="15.4" fill="#e4e4e4"/>
<text x="457.5" y="350.5" font-size="5.4" font-style="italic" fill="#1a1a1a" class="c">Signaling genes: CBL,</text>
<text x="457.5" y="356.8" font-size="5.4" font-style="italic" fill="#1a1a1a" class="c">NRAS, KRAS, PTPN11</text>
<defs><marker id="ah" markerWidth="3.4" markerHeight="3.2" refX="3.1" refY="1.6" orient="auto" markerUnits="userSpaceOnUse"><path d="M0,0 L3.4,1.6 L0,3.2 z" fill="#333"/></marker><marker id="ahg" markerWidth="3.4" markerHeight="3.2" refX="3.1" refY="1.6" orient="auto" markerUnits="userSpaceOnUse"><path d="M0,0 L3.4,1.6 L0,3.2 z" fill="#777"/></marker></defs>
<line x1="455" y1="275" x2="469" y2="275" stroke="#3a3a3a" stroke-width="0.8" marker-end="url(#ah)"/>
<line x1="469.5" y1="279.2" x2="455.5" y2="279.2" stroke="#3a3a3a" stroke-width="0.8" marker-end="url(#ah)"/>
<polyline points="428.6,277.2 411.2,277.2 411.2,319.6" fill="none" stroke="#3a3a3a" stroke-width="0.8" marker-end="url(#ah)"/>
<line x1="441.1" y1="283.9" x2="441.1" y2="308.8" stroke="#3a3a3a" stroke-width="0.95" marker-end="url(#ah)"/>
<polyline points="448.2,283.9 448.2,300.2 467.6,300.2 467.6,308.8" fill="none" stroke="#8a8a8a" stroke-width="0.7" marker-end="url(#ahg)"/>
<polyline points="434.9,318.7 434.9,324.8 421,324.8" fill="none" stroke="#8a8a8a" stroke-width="0.7" marker-end="url(#ahg)"/>
<line x1="441.1" y1="318.7" x2="441.1" y2="344.6" stroke="#3a3a3a" stroke-width="0.95" marker-end="url(#ah)"/>
<polyline points="446.4,318.7 446.4,332.3 460.3,332.3 460.3,343.9" fill="none" stroke="#8a8a8a" stroke-width="0.7" marker-end="url(#ahg)"/>
<line x1="468.1" y1="318.7" x2="468.1" y2="343.9" stroke="#8a8a8a" stroke-width="0.7" marker-end="url(#ahg)"/>
<line x1="482.5" y1="294.7" x2="482.5" y2="343.9" stroke="#8a8a8a" stroke-width="0.7" marker-end="url(#ahg)"/>
</svg></body></html>
